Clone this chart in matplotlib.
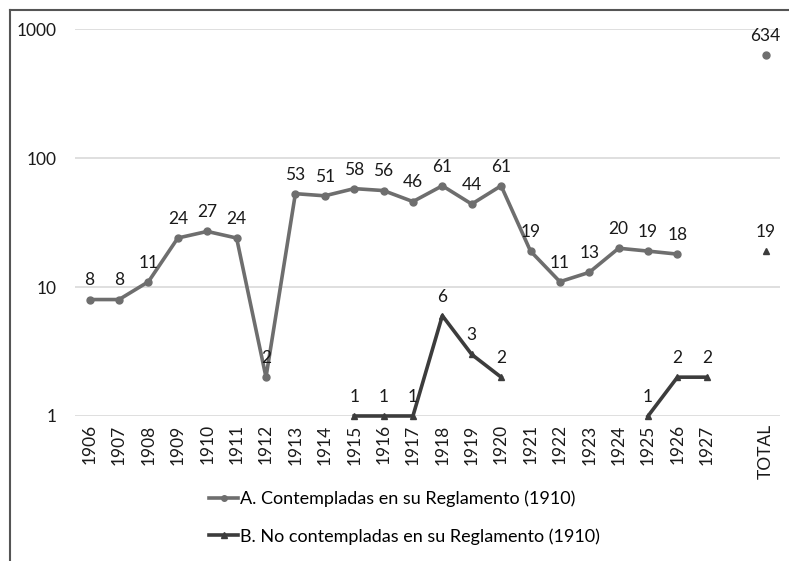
import matplotlib
matplotlib.use("Agg")
import matplotlib.pyplot as plt
from matplotlib.lines import Line2D
import numpy as np

categories = [str(y) for y in range(1906, 1928)] + ["", "TOTAL"]
series_a = [8, 8, 11, 24, 27, 24, 2, 53, 51, 58, 56, 46, 61, 44, 61, 19, 11, 13, 20, 19, 18, None, None, 634]
series_b = [None]*9 + [1, 1, 1, 6, 3, 2] + [None]*4 + [1, 2, 2, None, 19]
label_a = "A. Contempladas en su Reglamento (1910)"
label_b = "B. No contempladas en su Reglamento (1910)"

plt.rcParams['font.family'] = ['Lato', 'DejaVu Sans']

fig = plt.figure(figsize=(7.89, 5.61), dpi=100)
ax = fig.add_axes([0.095, 0.2585, 0.894, 0.6895])

x = np.arange(len(categories))
ya = np.array([np.nan if v is None else v for v in series_a], dtype=float)
yb = np.array([np.nan if v is None else v for v in series_b], dtype=float)

col_a = "#6e6e6e"
col_b = "#3c3c3c"
ax.plot(x, ya, color=col_a, lw=2.6, marker='o', ms=5, clip_on=False, zorder=3)
ax.plot(x, yb, color=col_b, lw=2.6, marker='^', ms=5, clip_on=False, zorder=3)

for xi, v in zip(x, series_a):
    if v is not None:
        ax.annotate(str(v), (xi, v), xytext=(0, 8), textcoords='offset points',
                    ha='center', va='bottom', fontsize=12.5, color='#1a1a1a', zorder=5)
for xi, v in zip(x, series_b):
    if v is not None:
        ax.annotate(str(v), (xi, v), xytext=(0, 8), textcoords='offset points',
                    ha='center', va='bottom', fontsize=12.5, color='#1a1a1a', zorder=5)

ax.set_yscale('log')
ax.set_ylim(1, 1000)
ax.set_xlim(-0.5, len(categories) - 0.5)
ax.set_yticks([1, 10, 100, 1000])
ax.set_yticklabels(["1", "10", "100", "1000"])
ax.yaxis.set_minor_locator(matplotlib.ticker.NullLocator())
ax.set_xticks(x)
ax.set_xticklabels(categories, rotation=90)
ax.tick_params(axis='both', length=0, labelsize=12.5, colors='#1a1a1a')
ax.tick_params(axis='y', pad=13)
ax.tick_params(axis='x', pad=6)
ax.grid(axis='y', color='#d9d9d9', lw=1.2)
for s in ax.spines.values():
    s.set_visible(False)
ax.set_axisbelow(True)

handles = [Line2D([0], [0], color=col_a, lw=2.6, marker='o', ms=4),
           Line2D([0], [0], color=col_b, lw=2.6, marker='^', ms=4)]
fig.legend(handles, [label_a, label_b], loc='center', bbox_to_anchor=(0.513, 0.077),
           frameon=False, fontsize=13, handlelength=1.6, handletextpad=0.1,
           labelspacing=1.15)

fig.add_artist(Line2D([10/789, 1.0], [1 - 10/561, 1 - 10/561], color='#555555', lw=1.5,
                      transform=fig.transFigure))
fig.add_artist(Line2D([10/789, 10/789], [0, 1 - 10/561], color='#555555', lw=1.5,
                      transform=fig.transFigure))

fig.savefig("out.png", dpi=100)
